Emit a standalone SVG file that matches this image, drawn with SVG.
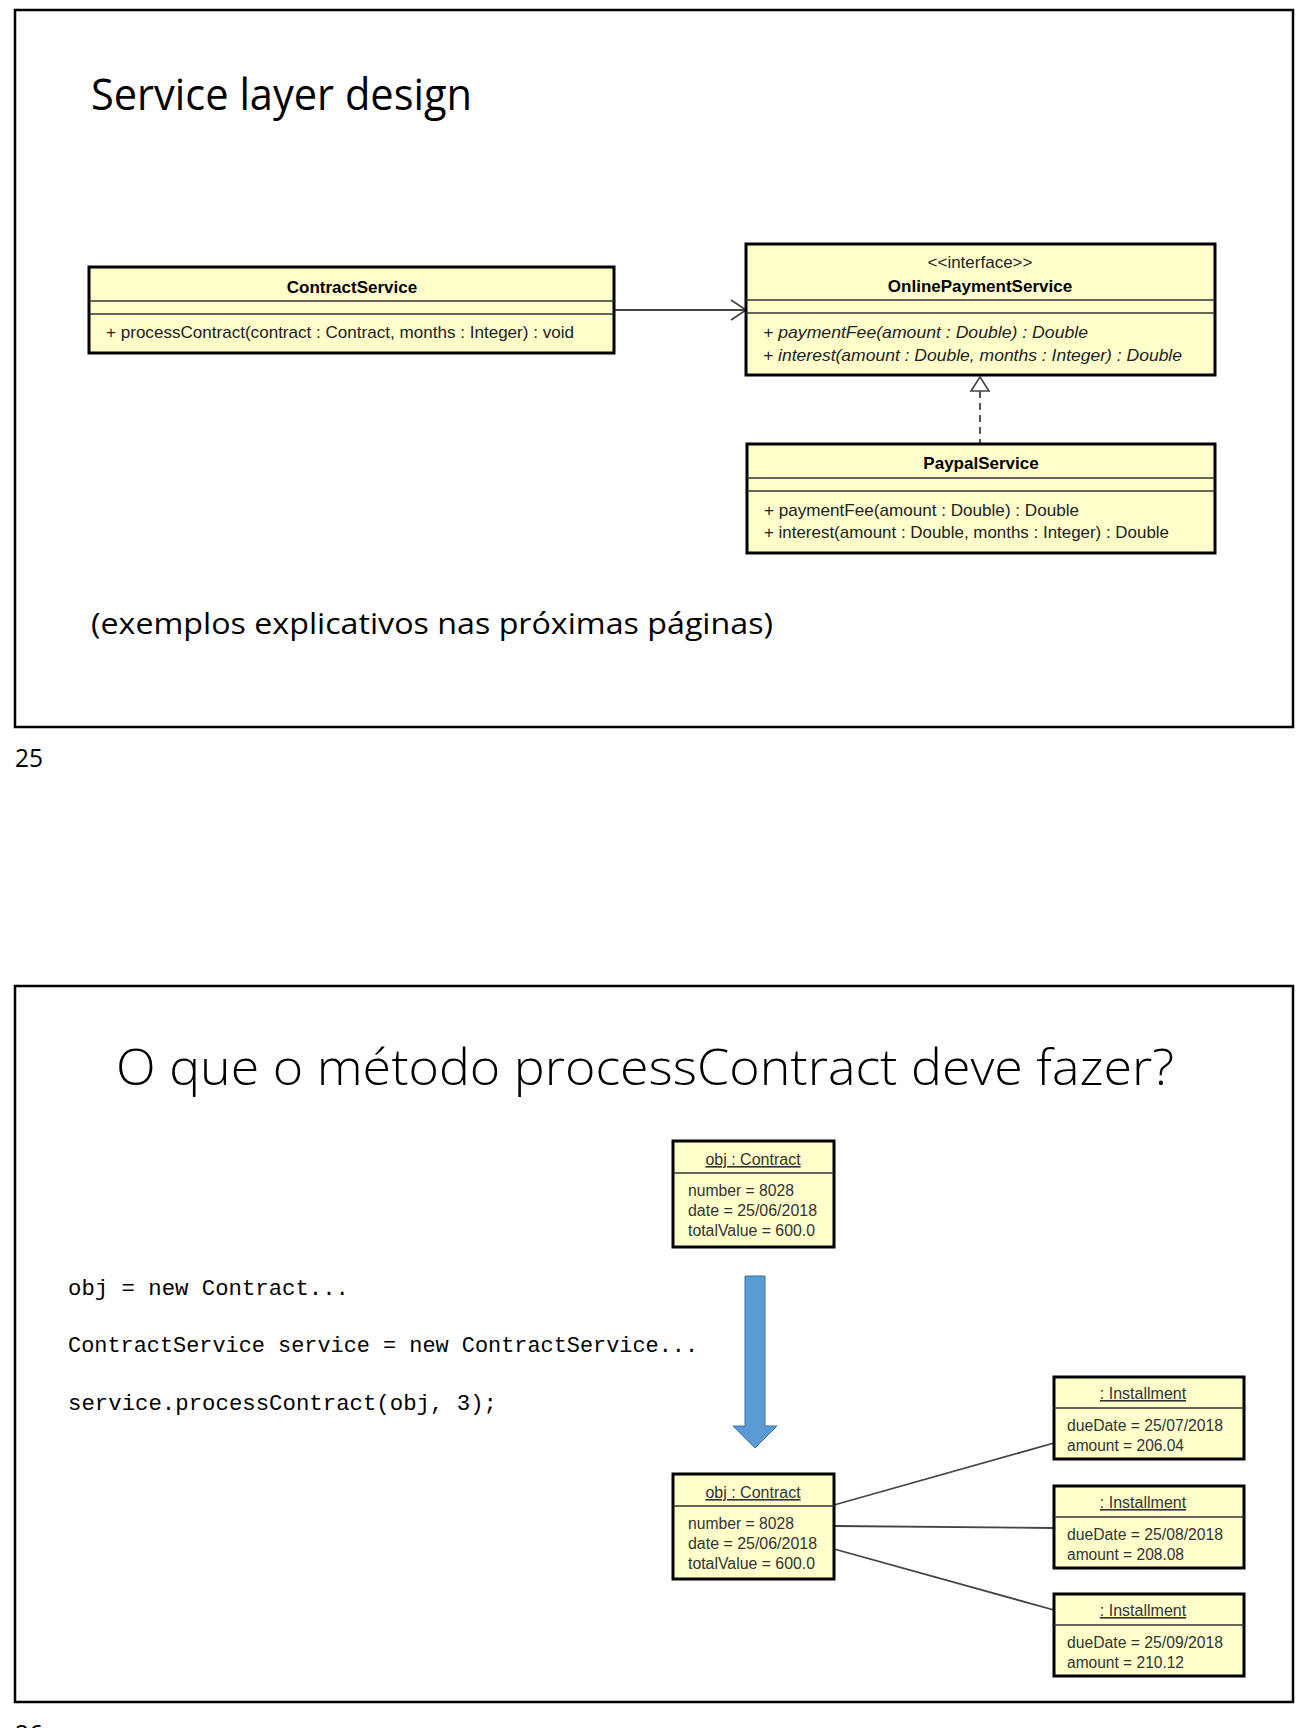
<svg xmlns="http://www.w3.org/2000/svg" width="1305" height="1728" viewBox="0 0 1305 1728">
<defs>
<style>
.frame{fill:none;stroke:#000;stroke-width:2.5}
.box{fill:#FFFFCC;stroke:#000;stroke-width:3}
.sep{stroke:#333;stroke-width:1.5}
.uml{font-family:"Liberation Sans",Arial,sans-serif;font-size:17px;fill:#222}
.ital{font-style:italic}
.bold{font-weight:bold;fill:#000}
.obj{font-family:"Liberation Sans",Arial,sans-serif;font-size:16px;fill:#333}
.ul{text-decoration:underline}
.title{font-family:"Open Sans","Noto Sans",sans-serif;fill:#000}
.code{font-family:"Liberation Mono","DejaVu Sans Mono",monospace;font-size:22px;fill:#000}
.conn{stroke:#444;stroke-width:1.8;fill:none}
</style>
</defs>
<rect width="1305" height="1728" fill="#fff"/>

<!-- Slide 1 -->
<rect class="frame" x="15" y="10" width="1278" height="717"/>
<text class="title" x="91" y="110" font-size="44" textLength="381" lengthAdjust="spacingAndGlyphs">Service layer design</text>
<text class="title" x="91" y="634" font-size="29" textLength="682" lengthAdjust="spacingAndGlyphs">(exemplos explicativos nas próximas páginas)</text>
<text class="title" x="15" y="767" font-size="26" fill="#333" textLength="28" lengthAdjust="spacingAndGlyphs">25</text>

<g id="connectors">
<line class="conn" x1="614" y1="310" x2="745" y2="310"/>
<polyline class="conn" points="731,300 746,310 731,320"/>
<line class="conn" x1="980" y1="391" x2="980" y2="444" stroke-dasharray="7,5"/>
<polygon points="980,377 971,391 989,391" fill="#fff" stroke="#444" stroke-width="1.6"/>
<line class="conn" x1="834" y1="1505" x2="1054" y2="1443"/>
<line class="conn" x1="834" y1="1526" x2="1054" y2="1528"/>
<line class="conn" x1="834" y1="1549" x2="1054" y2="1610"/>
</g>

<g id="ContractService">
<rect class="box" x="89" y="267" width="525" height="86"/>
<line class="sep" x1="89" y1="301" x2="614" y2="301"/>
<line class="sep" x1="89" y1="314" x2="614" y2="314"/>
<text class="uml bold" x="352" y="293" text-anchor="middle">ContractService</text>
<text class="uml" x="106" y="338" textLength="468" lengthAdjust="spacingAndGlyphs">+ processContract(contract : Contract, months : Integer) : void</text>
</g>

<g id="OnlinePaymentService">
<rect class="box" x="746" y="244" width="469" height="131"/>
<line class="sep" x1="746" y1="300" x2="1215" y2="300"/>
<line class="sep" x1="746" y1="313" x2="1215" y2="313"/>
<text class="uml" x="980" y="268" text-anchor="middle" font-size="16">&lt;&lt;interface&gt;&gt;</text>
<text class="uml bold" x="980" y="292" text-anchor="middle">OnlinePaymentService</text>
<text class="uml ital" x="763" y="338" textLength="325" lengthAdjust="spacingAndGlyphs">+ paymentFee(amount : Double) : Double</text>
<text class="uml ital" x="763" y="361" textLength="419" lengthAdjust="spacingAndGlyphs">+ interest(amount : Double, months : Integer) : Double</text>
</g>

<g id="PaypalService">
<rect class="box" x="747" y="444" width="468" height="109"/>
<line class="sep" x1="747" y1="478" x2="1215" y2="478"/>
<line class="sep" x1="747" y1="491" x2="1215" y2="491"/>
<text class="uml bold" x="981" y="469" text-anchor="middle">PaypalService</text>
<text class="uml" x="764" y="516" textLength="315" lengthAdjust="spacingAndGlyphs">+ paymentFee(amount : Double) : Double</text>
<text class="uml" x="764" y="538" textLength="405" lengthAdjust="spacingAndGlyphs">+ interest(amount : Double, months : Integer) : Double</text>
</g>

<!-- Slide 2 -->
<rect class="frame" x="15" y="986" width="1278" height="716"/>
<text class="title" x="116" y="1085" font-size="49" font-weight="300" textLength="1058" lengthAdjust="spacingAndGlyphs">O que o método processContract deve fazer?</text>
<text class="title" x="15" y="1743" font-size="26" fill="#333" textLength="28" lengthAdjust="spacingAndGlyphs">26</text>

<g id="code">
<text class="code" x="68" y="1295" textLength="281" lengthAdjust="spacingAndGlyphs">obj = new Contract...</text>
<text class="code" x="68" y="1352" textLength="630" lengthAdjust="spacingAndGlyphs">ContractService service = new ContractService...</text>
<text class="code" x="68" y="1410" textLength="429" lengthAdjust="spacingAndGlyphs">service.processContract(obj, 3);</text>
</g>

<g id="objContractBefore">
<rect class="box" x="673" y="1141" width="161" height="106"/>
<line class="sep" x1="673" y1="1173" x2="834" y2="1173"/>
<text class="obj ul" x="753" y="1165" text-anchor="middle">obj : Contract</text>
<text class="obj" x="688" y="1196" textLength="106" lengthAdjust="spacingAndGlyphs">number = 8028</text>
<text class="obj" x="688" y="1216" textLength="129" lengthAdjust="spacingAndGlyphs">date = 25/06/2018</text>
<text class="obj" x="688" y="1236" textLength="127" lengthAdjust="spacingAndGlyphs">totalValue = 600.0</text>
</g>

<g id="processArrow">
<polygon points="745,1276 765,1276 765,1426 777,1426 755,1448 733,1426 745,1426" fill="#5B9BD5" stroke="#41719C" stroke-width="1"/>
</g>

<g id="objContractAfter">
<rect class="box" x="673" y="1474" width="161" height="105"/>
<line class="sep" x1="673" y1="1506" x2="834" y2="1506"/>
<text class="obj ul" x="753" y="1498" text-anchor="middle">obj : Contract</text>
<text class="obj" x="688" y="1529" textLength="106" lengthAdjust="spacingAndGlyphs">number = 8028</text>
<text class="obj" x="688" y="1549" textLength="129" lengthAdjust="spacingAndGlyphs">date = 25/06/2018</text>
<text class="obj" x="688" y="1569" textLength="127" lengthAdjust="spacingAndGlyphs">totalValue = 600.0</text>
</g>

<g id="installment1">
<rect class="box" x="1054" y="1377" width="190" height="82"/>
<line class="sep" x1="1054" y1="1408" x2="1244" y2="1408"/>
<text class="obj ul" x="1143" y="1399" text-anchor="middle">: Installment</text>
<text class="obj" x="1067" y="1431" textLength="156" lengthAdjust="spacingAndGlyphs">dueDate = 25/07/2018</text>
<text class="obj" x="1067" y="1451" textLength="117" lengthAdjust="spacingAndGlyphs">amount = 206.04</text>
</g>

<g id="installment2">
<rect class="box" x="1054" y="1486" width="190" height="82"/>
<line class="sep" x1="1054" y1="1517" x2="1244" y2="1517"/>
<text class="obj ul" x="1143" y="1508" text-anchor="middle">: Installment</text>
<text class="obj" x="1067" y="1540" textLength="156" lengthAdjust="spacingAndGlyphs">dueDate = 25/08/2018</text>
<text class="obj" x="1067" y="1560" textLength="117" lengthAdjust="spacingAndGlyphs">amount = 208.08</text>
</g>

<g id="installment3">
<rect class="box" x="1054" y="1594" width="190" height="82"/>
<line class="sep" x1="1054" y1="1625" x2="1244" y2="1625"/>
<text class="obj ul" x="1143" y="1616" text-anchor="middle">: Installment</text>
<text class="obj" x="1067" y="1648" textLength="156" lengthAdjust="spacingAndGlyphs">dueDate = 25/09/2018</text>
<text class="obj" x="1067" y="1668" textLength="117" lengthAdjust="spacingAndGlyphs">amount = 210.12</text>
</g>
</svg>
